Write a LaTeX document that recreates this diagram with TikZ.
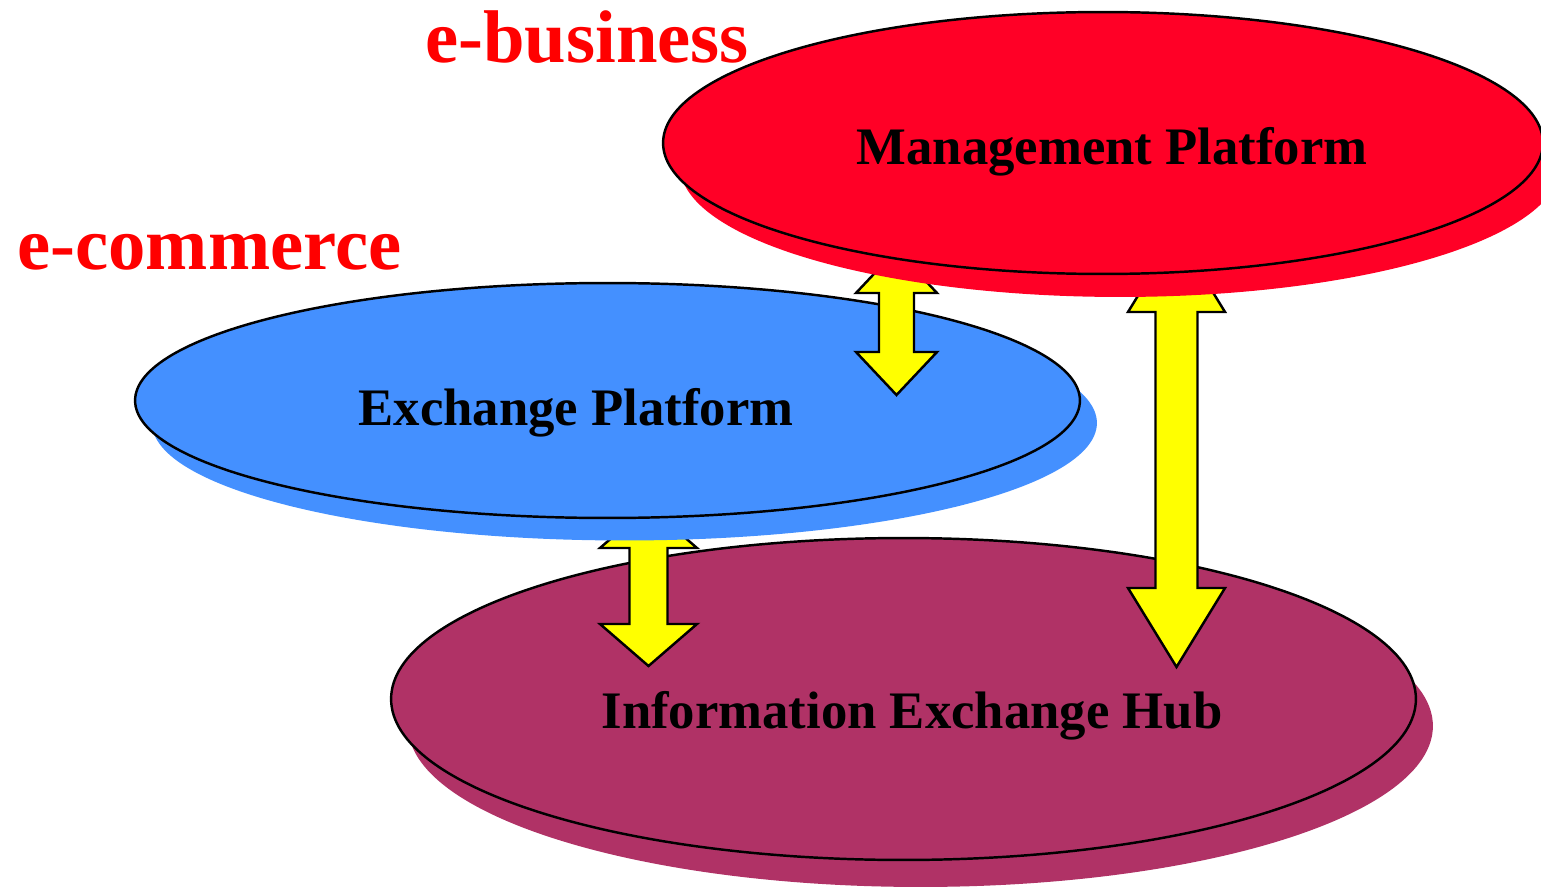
\documentclass[tikz,border=0pt]{standalone}
\usepackage{fontspec}
\setmainfont{Liberation Serif}
\usetikzlibrary{shapes.geometric, shadows, calc}
\definecolor{mgmtred}{RGB}{255, 0, 38}
\definecolor{exchblue}{RGB}{68, 144, 255}
\definecolor{hubpurple}{RGB}{176, 50, 102}
\definecolor{labelred}{RGB}{255, 0, 0}
\definecolor{arrowyellow}{RGB}{255, 255, 0}
\tikzset{
  platform/.style={
    ellipse, draw, line width=1.4pt, inner sep=0pt
  },
  platshadow/.style 2 args={
    drop shadow={fill=#1, opacity=1, shadow xshift=0.34cm, shadow yshift=#2}
  },
  platlabel/.style={
    anchor=base, font=\fontsize{30}{36}\selectfont\bfseries
  },
  arealabel/.style={
    anchor=base west, inner sep=0pt, text=labelred,
    font=\fontsize{42.5}{48}\selectfont\bfseries
  },
  arrowbox/.style={
    draw, fill=arrowyellow, line width=1.4pt, line join=miter
  }
}
% top tip, bottom tip, shaft half width, head half width, head length
\newcommand{\blockarrow}[5]{%
  \draw[arrowbox] (#1) -- ($(#1)+(#4,#5)$) -- ($(#1)+(#3,#5)$) -- ($(#2)+(#3,-#5)$)
    -- ($(#2)+(#4,-#5)$) -- (#2) -- ($(#2)+(-#4,-#5)$) -- ($(#2)+(-#3,-#5)$)
    -- ($(#1)+(-#3,#5)$) -- ($(#1)+(-#4,#5)$) -- cycle;}

\begin{document}
\begin{tikzpicture}[x=0.02cm, y=-0.02cm]
  \useasboundingbox (0,0) rectangle (1541,888);

  % bottom platform
  \node[platform, platshadow={hubpurple}{-0.54cm}, fill=hubpurple, minimum width=20.5cm, minimum height=6.44cm] (hub) at (903.5,699) {};
  \node[platlabel] (hubtext) at (912,728) {Information Exchange Hub};

  % arrows into the hub
  \coordinate (a2top) at (1176.5,233);
  \coordinate (a2bot) at (1176.5,667);
  \coordinate (a3top) at (648.5,506);
  \coordinate (a3bot) at (648.5,666);
  \blockarrow{a2top}{a2bot}{21}{48.5}{79}
  \blockarrow{a3top}{a3bot}{19}{48.5}{42}

  % middle platform
  \node[platform, platshadow={exchblue}{-0.45cm}, fill=exchblue, minimum width=18.9cm, minimum height=4.7cm] (exch) at (607.5,400.5) {};
  \node[platlabel] (exchtext) at (576,425) {Exchange Platform};

  \coordinate (a1top) at (896.5,250);
  \coordinate (a1bot) at (896.5,395);
  \blockarrow{a1top}{a1bot}{17.5}{40.5}{43}

  % top platform
  \node[platform, platshadow={mgmtred}{-0.46cm}, fill=mgmtred, minimum width=17.6cm, minimum height=5.24cm] (mgmt) at (1103,143) {};
  \node[platlabel] (mgmttext) at (1112,165) {Management Platform};

  % area labels
  \node[arealabel] (ebiz) at (425,63) {e-business};
  \node[arealabel] (ecom) at (17,270) {e-commerce};
\end{tikzpicture}
\end{document}
